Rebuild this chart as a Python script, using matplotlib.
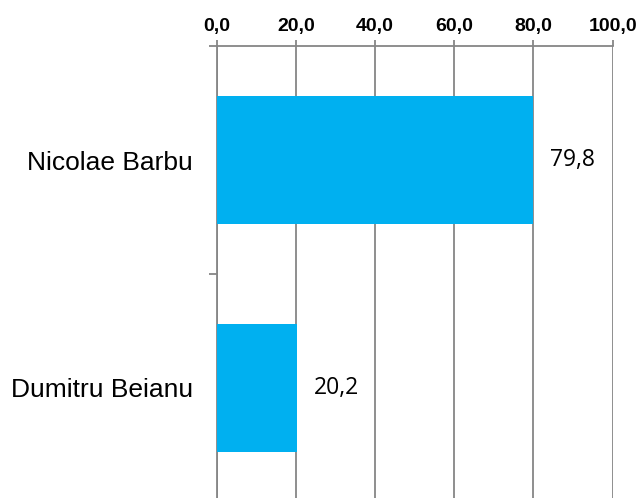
import matplotlib
matplotlib.use("Agg")
import matplotlib.pyplot as plt

# data
names = ["Dumitru Beianu", "Nicolae Barbu"]
values = [20.2, 79.8]
xticks = [0, 20, 40, 60, 80, 100]

bar_color = "#00B0F0"
grid_color = "#868686"

fig = plt.figure(figsize=(6.38, 4.98), dpi=100)
ax = fig.add_axes([0.3396, -0.008, 0.6207, 0.9156])

pos = list(range(len(names)))
ax.barh(pos, values, height=0.56, color=bar_color, zorder=3)

# value labels to the right of each bar
for p, v in zip(pos, values):
    ax.text(v + 4.3, p, f"{v:.1f}".replace(".", ","), va="center", ha="left",
            fontsize=16.5, family="Open Sans", color="black")

ax.set_xlim(0, 100)
ax.set_ylim(-0.5, len(names) - 0.5)

# x axis on top
ax.xaxis.tick_top()
ax.set_xticks(xticks)
ax.set_xticklabels([f"{t:.1f}".replace(".", ",") for t in xticks],
                   fontsize=14, fontweight="bold", family="Liberation Sans")
ax.tick_params(axis="x", which="major", direction="out", length=4,
               width=1.3, color=grid_color, pad=4)
ax.grid(axis="x", color=grid_color, linewidth=1.3, zorder=0)

# category labels on minor ticks, boundary tick marks on major
ax.set_yticks([p + 0.5 for p in pos[:-1]] + [len(names) - 0.5])
ax.set_yticklabels([])
ax.set_yticks(pos, minor=True)
ax.set_yticklabels(names, minor=True, fontsize=19, family="Liberation Sans")
ax.tick_params(axis="y", which="major", direction="out", length=6,
               width=1.3, color=grid_color)
ax.tick_params(axis="y", which="minor", length=0, pad=17)

for s in ["bottom", "right"]:
    ax.spines[s].set_visible(False)
for s in ["top", "left"]:
    ax.spines[s].set_color(grid_color)
    ax.spines[s].set_linewidth(1.3)

fig.savefig("out.png", dpi=100)
